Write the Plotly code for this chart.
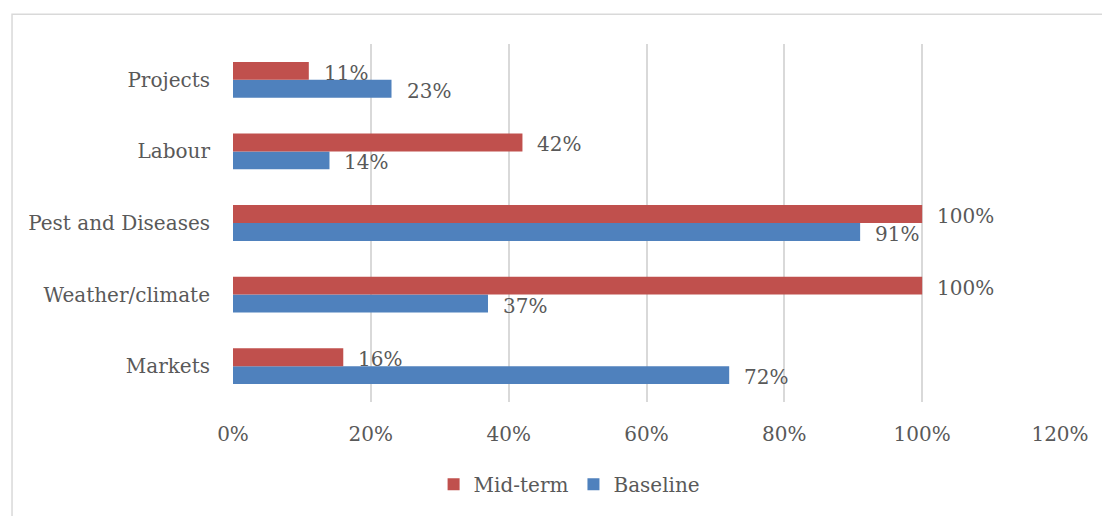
import plotly.graph_objects as go

categories = ["Markets", "Weather/climate", "Pest and Diseases", "Labour", "Projects"]
baseline = [72, 37, 91, 14, 23]
midterm = [16, 100, 100, 42, 11]
x_ticks = [0, 20, 40, 60, 80, 100, 120]
x_tick_labels = ["0%", "20%", "40%", "60%", "80%", "100%", "120%"]

RED = "#C0504D"
BLUE = "#4F81BD"
TXT = "#595959"
FONT = "DejaVu Serif"
FS = 20

fig = go.Figure()
fig.add_trace(go.Bar(y=categories, x=baseline, orientation="h", name="Baseline",
                     marker=dict(color=BLUE, line=dict(width=0))))
fig.add_trace(go.Bar(y=categories, x=midterm, orientation="h", name="Mid-term",
                     marker=dict(color=RED, line=dict(width=0))))

# data labels
for cat, v in zip(categories, baseline):
    fig.add_annotation(x=v, y=cat, text=f"{v}%", xref="x", yref="y", showarrow=False,
                       xanchor="left", yanchor="middle", xshift=13, yshift=-11,
                       font=dict(family=FONT, size=FS, color=TXT))
for cat, v in zip(categories, midterm):
    fig.add_annotation(x=v, y=cat, text=f"{v}%", xref="x", yref="y", showarrow=False,
                       xanchor="left", yanchor="middle", xshift=13, yshift=7,
                       font=dict(family=FONT, size=FS, color=TXT))

# chart frame
fig.add_shape(type="rect", xref="paper", yref="paper", x0=-0.2672, x1=1.2, y0=-0.5, y1=1.083,
              line=dict(color="#D9D9D9", width=1.5), fillcolor="rgba(0,0,0,0)", layer="below")

fig.update_layout(
    width=1102, height=508,
    margin=dict(l=225, r=50, t=36, b=111),
    paper_bgcolor="white", plot_bgcolor="white",
    barmode="group", bargap=0.5, bargroupgap=0,
    font=dict(family=FONT, size=FS, color=TXT),
    showlegend=True,
    legend=dict(orientation="h", x=0.407, y=-0.23, xanchor="center", yanchor="middle",
                traceorder="reversed", font=dict(family=FONT, size=FS, color=TXT),
                itemwidth=30),
    xaxis=dict(range=[0, 120], tickvals=x_ticks, ticktext=x_tick_labels,
               showgrid=True, gridcolor="#D9D9D9", gridwidth=1.5,
               zeroline=False, showline=False, ticks="", ticklabelstandoff=18,
               tickfont=dict(family=FONT, size=FS, color=TXT), fixedrange=True),
    yaxis=dict(type="category", categoryorder="array", categoryarray=categories,
               showgrid=False, zeroline=False, showline=False, ticks="",
               ticklabelstandoff=22,
               tickfont=dict(family=FONT, size=FS, color=TXT), fixedrange=True),
)

fig.write_html("out.html")
